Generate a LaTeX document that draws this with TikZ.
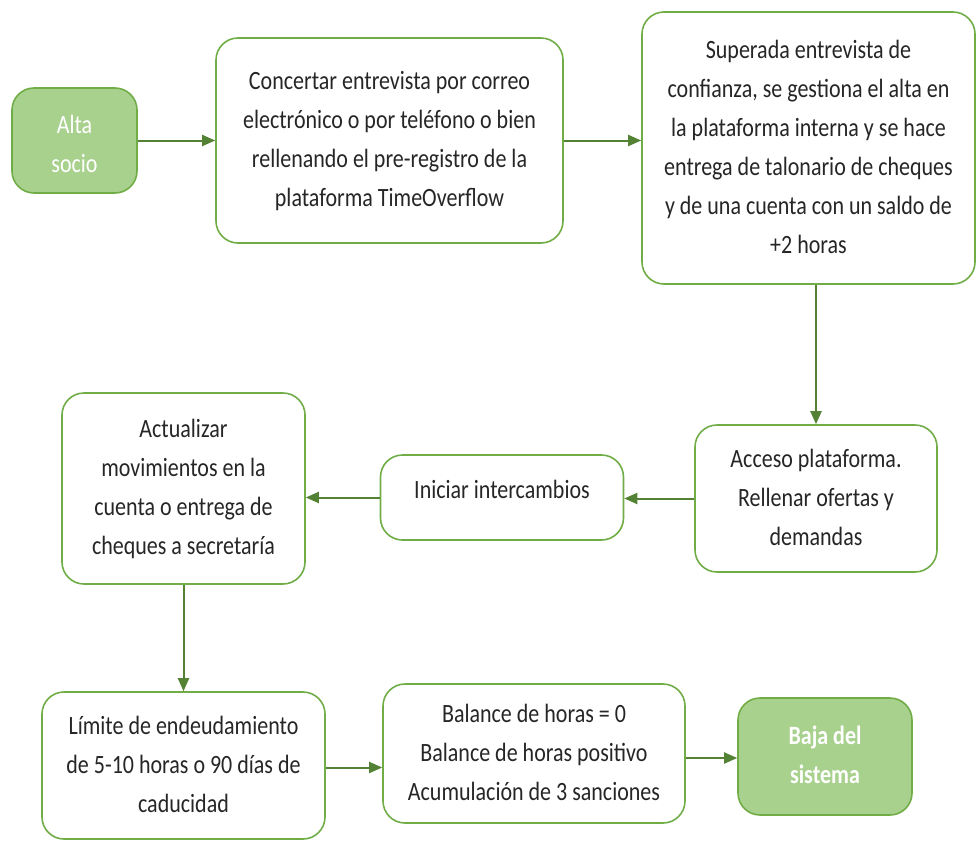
\documentclass[tikz,border=0pt]{standalone}
\usepackage{fontspec}
\setmainfont{Carlito}
\usetikzlibrary{arrows.meta}
\definecolor{gborder}{HTML}{70AD47}
\definecolor{gfill}{HTML}{A9D18E}
\definecolor{garrow}{HTML}{548235}
\definecolor{txt}{HTML}{262626}
\newcommand{\vt}[1]{\scalebox{1}[1.2]{\begin{tabular}{@{}c@{}}#1\end{tabular}}}
\tikzset{
  box/.style={draw=gborder, line width=1.6pt, rounded corners=22pt, fill=white, text=txt,
    font=\fontsize{22}{32.5}\selectfont, inner sep=0pt},
  gbox/.style={box, fill=gfill, text=white},
  conn/.style={draw=garrow, line width=2pt, -{Triangle[length=13pt,width=11pt]}}
}
\begin{document}
\begin{tikzpicture}[x=1pt,y=-1pt]
\useasboundingbox (0,0) rectangle (978,841);
\node[gbox, minimum width=125pt, minimum height=105pt, text depth=24pt] (alta) at (74.5,140.5) {\vt{Alta\\socio}};
\node[box, minimum width=347pt, minimum height=205pt] (conc) at (389.5,140.5) {\vt{Concertar entrevista por correo\\electrónico o por teléfono o bien\\rellenando el pre-registro de la\\plataforma TimeOverflow}};
\node[box, minimum width=333pt, minimum height=272pt] (sup) at (808.5,148) {\vt{Superada entrevista de\\confianza, se gestiona el alta en\\la plataforma interna y se hace\\entrega de talonario de cheques\\y de una cuenta con un saldo de\\+2 horas}};
\node[box, minimum width=242pt, minimum height=147pt] (acc) at (816,498.5) {\vt{Acceso plataforma.\\Rellenar ofertas y\\demandas}};
\node[box, minimum width=243pt, minimum height=85pt, text depth=27pt] (ini) at (502,497.5) {\vt{Iniciar intercambios}};
\node[box, minimum width=243pt, minimum height=191pt] (act) at (183.5,488.5) {\vt{Actualizar\\movimientos en la\\cuenta o entrega de\\cheques a secretaría}};
\node[box, minimum width=283pt, minimum height=147pt] (lim) at (183.5,765.5) {\vt{Límite de endeudamiento\\de 5-10 horas o 90 días de\\caducidad}};
\node[box, minimum width=302pt, minimum height=139pt] (bal) at (534,753.5) {\vt{Balance de horas = 0\\Balance de horas positivo\\Acumulación de 3 sanciones}};
\node[gbox, minimum width=174pt, minimum height=117pt, font=\fontsize{22}{32.5}\selectfont\bfseries] (baja) at (825,756.5) {\vt{Baja del\\sistema}};
\draw[conn] (alta.east) -- (alta.east -| conc.west);
\draw[conn] (conc.east) -- (conc.east -| sup.west);
\draw[conn] (sup.south -| acc.north) -- (acc.north);
\draw[conn] (acc.west) -- (acc.west -| ini.east);
\draw[conn] (ini.west) -- (ini.west -| act.east);
\draw[conn] (act.south) -- (act.south |- lim.north);
\draw[conn] ([yshift=-2pt]lim.east) -- ([yshift=-2pt]lim.east -| bal.west);
\draw[conn] ([yshift=-4.5pt]bal.east) -- ([yshift=-4.5pt]bal.east -| baja.west);
\end{tikzpicture}
\end{document}
